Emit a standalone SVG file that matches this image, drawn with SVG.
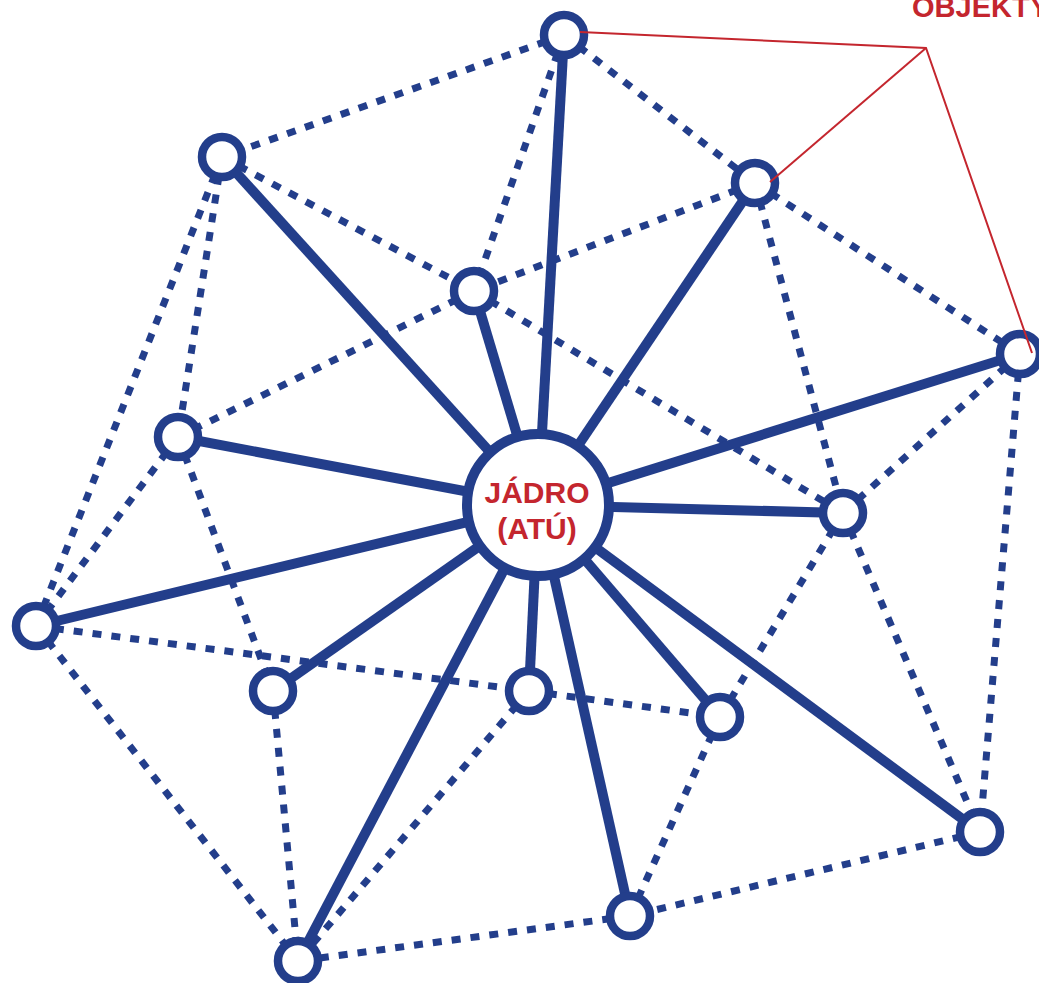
<svg xmlns="http://www.w3.org/2000/svg" width="1039" height="983" viewBox="0 0 1039 983">
<style>
.d{stroke:#233e8b;stroke-width:7;stroke-dasharray:9 10;fill:none}
.s{stroke:#233e8b;stroke-width:10;fill:none}
.n{fill:#fff;stroke:#233e8b;stroke-width:8.5}
.r{stroke:#c4262e;stroke-width:2;fill:none}
.t{font-family:"Liberation Sans",Arial,sans-serif;font-weight:bold;fill:#c4262e}
</style>
<rect width="1039" height="983" fill="#fff"/>
<g id="connectors">
<g id="dashed">
<line class="d" x1="564" y1="35" x2="222" y2="157"/>
<line class="d" x1="564" y1="35" x2="474" y2="291"/>
<line class="d" x1="564" y1="35" x2="755" y2="183"/>
<line class="d" x1="222" y1="157" x2="474" y2="291"/>
<line class="d" x1="222" y1="157" x2="178" y2="437"/>
<line class="d" x1="222" y1="157" x2="36" y2="626"/>
<line class="d" x1="755" y1="183" x2="474" y2="291"/>
<line class="d" x1="474" y1="291" x2="178" y2="437"/>
<line class="d" x1="755" y1="183" x2="1020" y2="354"/>
<line class="d" x1="755" y1="183" x2="843" y2="513"/>
<line class="d" x1="474" y1="291" x2="843" y2="513"/>
<line class="d" x1="1020" y1="354" x2="843" y2="513"/>
<line class="d" x1="1020" y1="354" x2="980" y2="832"/>
<line class="d" x1="178" y1="437" x2="36" y2="626"/>
<line class="d" x1="178" y1="437" x2="273" y2="691"/>
<line class="d" x1="843" y1="513" x2="720" y2="717"/>
<line class="d" x1="843" y1="513" x2="980" y2="832"/>
<line class="d" x1="36" y1="626" x2="529" y2="691"/>
<line class="d" x1="36" y1="626" x2="298" y2="961"/>
<line class="d" x1="273" y1="691" x2="298" y2="961"/>
<line class="d" x1="529" y1="691" x2="720" y2="717"/>
<line class="d" x1="529" y1="691" x2="298" y2="961"/>
<line class="d" x1="720" y1="717" x2="630" y2="916"/>
<line class="d" x1="980" y1="832" x2="630" y2="916"/>
<line class="d" x1="630" y1="916" x2="298" y2="961"/>
</g>
<g id="solid">
<line class="s" x1="538" y1="505" x2="564" y2="35"/>
<line class="s" x1="538" y1="505" x2="222" y2="157"/>
<line class="s" x1="538" y1="505" x2="755" y2="183"/>
<line class="s" x1="538" y1="505" x2="474" y2="291"/>
<line class="s" x1="538" y1="505" x2="1020" y2="354"/>
<line class="s" x1="538" y1="505" x2="178" y2="437"/>
<line class="s" x1="538" y1="505" x2="843" y2="513"/>
<line class="s" x1="538" y1="505" x2="36" y2="626"/>
<line class="s" x1="538" y1="505" x2="273" y2="691"/>
<line class="s" x1="538" y1="505" x2="529" y2="691"/>
<line class="s" x1="538" y1="505" x2="720" y2="717"/>
<line class="s" x1="538" y1="505" x2="980" y2="832"/>
<line class="s" x1="538" y1="505" x2="630" y2="916"/>
<line class="s" x1="538" y1="505" x2="298" y2="961"/>
</g>
</g>
<g id="nodes">
<g id="n1"><circle class="n" cx="564" cy="35" r="20"/></g>
<g id="n2"><circle class="n" cx="222" cy="157" r="20"/></g>
<g id="n3"><circle class="n" cx="755" cy="183" r="20"/></g>
<g id="n4"><circle class="n" cx="474" cy="291" r="20"/></g>
<g id="n5"><circle class="n" cx="1020" cy="354" r="20"/></g>
<g id="n6"><circle class="n" cx="178" cy="437" r="20"/></g>
<g id="n7"><circle class="n" cx="843" cy="513" r="20"/></g>
<g id="n8"><circle class="n" cx="36" cy="626" r="20"/></g>
<g id="n9"><circle class="n" cx="273" cy="691" r="20"/></g>
<g id="n10"><circle class="n" cx="529" cy="691" r="20"/></g>
<g id="n11"><circle class="n" cx="720" cy="717" r="20"/></g>
<g id="n12"><circle class="n" cx="980" cy="832" r="20"/></g>
<g id="n13"><circle class="n" cx="630" cy="916" r="20"/></g>
<g id="n14"><circle class="n" cx="298" cy="961" r="20"/></g>
<g id="core">
<circle cx="538" cy="505" r="71" fill="#fff" stroke="#233e8b" stroke-width="10"/>
<text class="t" x="537" y="503" font-size="30" text-anchor="middle">JÁDRO</text>
<text class="t" x="537" y="539" font-size="30" text-anchor="middle">(ATÚ)</text>
</g>
</g>
<g id="label">
<polyline class="r" points="580,32 926,48 1032,353"/>
<line class="r" x1="926" y1="48" x2="770" y2="182"/>
<text class="t" x="912" y="17" font-size="29">OBJEKTY</text>
</g>
</svg>
